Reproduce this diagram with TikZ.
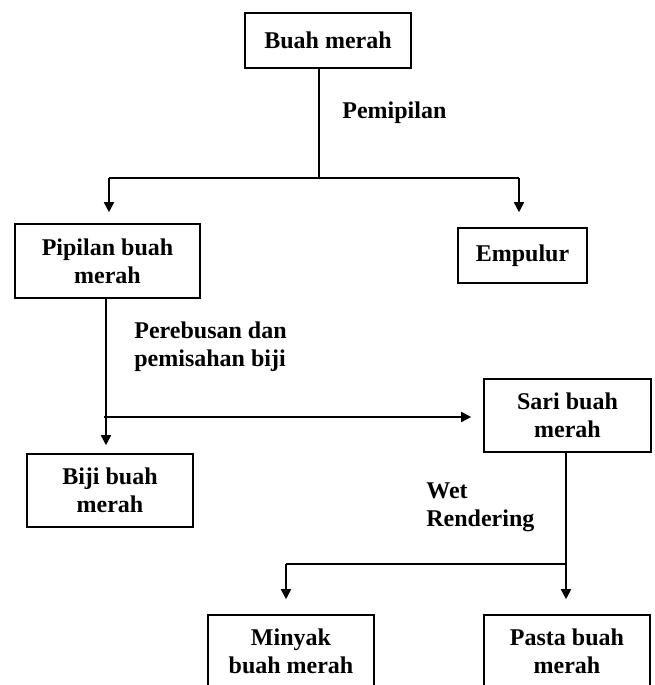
\documentclass[tikz,border=0pt]{standalone}
\usepackage{fontspec}
\setmainfont{Liberation Serif}
\usetikzlibrary{arrows.meta}

\begin{document}
\begin{tikzpicture}[
  x=0.5pt,y=-0.5pt,
  box/.style={draw,line width=0.8pt,align=center,inner sep=0pt,font=\bfseries\fontsize{12}{14}\selectfont},
  arr/.style={-{Triangle[length=5pt,width=5pt]},line width=0.8pt},
  line/.style={line width=0.8pt},
  note/.style={align=left,anchor=west,inner sep=0pt,font=\bfseries\fontsize{12}{14}\selectfont}
]
\clip (0,0) rectangle (654,685);
\node[box,minimum width=83pt,minimum height=27.5pt] (buah) at (328,40.5) {Buah merah};
\node[box,minimum width=92.5pt,minimum height=37pt] (pipilan) at (107.5,261) {Pipilan buah\\merah};
\node[box,minimum width=64.5pt,minimum height=27.5pt] (empulur) at (522.5,255.5) {Empulur};
\node[box,minimum width=83pt,minimum height=36.5pt] (biji) at (110,490.5) {Biji buah\\merah};
\node[box,minimum width=83.5pt,minimum height=36.5pt] (sari) at (567.5,415.5) {Sari buah\\merah};
\node[box,minimum width=83pt,minimum height=36.5pt] (minyak) at (291,651.5) {Minyak\\buah merah};
\node[box,minimum width=83pt,minimum height=36.5pt] (pasta) at (567,651.5) {Pasta buah\\merah};
\node[note] (pemipilan) at (342,113) {Pemipilan};
\node[note] (rebus) at (134,346.5) {Perebusan dan\\pemisahan biji};
\node[note] (wet) at (426,507.5) {Wet\\Rendering};
% first split
\coordinate (split1) at (319,178);
\coordinate (l1) at (109,178);
\coordinate (r1) at (519,178);
\draw[line] (buah.south -| split1) -- (split1);
\draw[line] (l1) -- (r1);
\draw[arr,shorten >=5.5pt] (l1) -- (l1 |- pipilan.north);
\draw[arr,shorten >=7.5pt] (r1) -- (r1 |- empulur.north);
% boiling
\coordinate (stem1) at (106,417);
\draw[arr,shorten >=4pt] (pipilan.south -| stem1) -- (stem1 |- biji.north);
\draw[arr,shorten >=6pt] ([xshift=-1pt]stem1) -- (stem1 -| sari.west);
% second split
\coordinate (split2) at (566,564);
\coordinate (l2) at (286,564);
\draw[arr,shorten >=7.5pt] (sari.south -| split2) -- (split2 |- pasta.north);
\draw[line] (split2) -- (l2);
\draw[arr,shorten >=7.5pt] (l2) -- (l2 |- minyak.north);
\end{tikzpicture}
\end{document}
